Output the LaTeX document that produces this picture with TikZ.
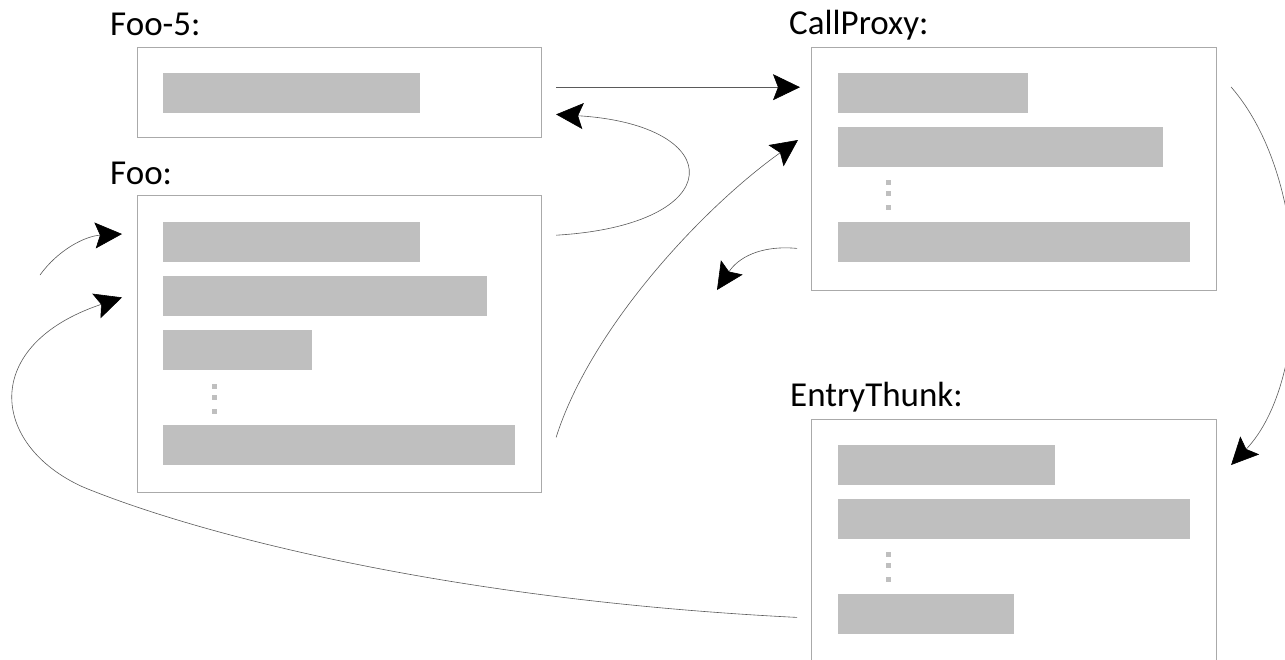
\documentclass[tikz,border=0pt]{standalone}
\usepackage{fontspec}
\setmainfont{Carlito}
\usetikzlibrary{arrows.meta,positioning}
\definecolor{boxline}{RGB}{170,170,170}
\definecolor{barfill}{RGB}{191,191,191}
\definecolor{wire}{RGB}{90,90,90}
\begin{document}
\begin{tikzpicture}[x=1pt,y=-1pt,
  frame/.style={draw=boxline,line width=1.1pt,fill=white,inner sep=0pt,anchor=north west},
  bar/.style={fill=barfill,inner sep=0pt,minimum height=40pt,anchor=north west},
  dotsq/.style={fill=barfill,inner sep=0pt,minimum size=5pt},
  lbl/.style={inner sep=0pt,anchor=base west,font=\fontsize{35}{40}\selectfont},
  wirearrow/.style={draw=wire,line width=0.6pt,-{Stealth[length=27pt,width=26pt,inset=5pt,color=black]}}]
\path[use as bounding box,clip] (0,0) rectangle (1285,659);
% labels
\node[lbl] (l5) at (110,35) {Foo-5:};
\node[lbl] (lfoo) at (110,184) {Foo:};
\node[lbl] (lcp) at (789,34) {CallProxy:};
\node[lbl] (let) at (790,406) {EntryThunk:};
% Foo-5 box
\node[frame,minimum width=404pt,minimum height=90pt] (foo5) at (137,47) {};
\node[bar,minimum width=257pt] (f5b1) at (163,73) {};
% Foo box
\node[frame,minimum width=404pt,minimum height=297pt] (foo) at (137,195) {};
\node[bar,minimum width=257pt] (fb1) at (163,222) {};
\node[bar,minimum width=324pt] (fb2) at (163,276) {};
\node[bar,minimum width=149pt] (fb3) at (163,330) {};
\node[dotsq] (fd1) at (214,386) {};
\node[dotsq] (fd2) at (214,397) {};
\node[dotsq] (fd3) at (214,411) {};
\node[bar,minimum width=352pt] (fb4) at (163,425) {};
% CallProxy box
\node[frame,minimum width=405pt,minimum height=243pt] (cp) at (811,47) {};
\node[bar,minimum width=190pt] (cb1) at (838,73) {};
\node[bar,minimum width=325pt] (cb2) at (838,127) {};
\node[dotsq] (cd1) at (888,182) {};
\node[dotsq] (cd2) at (888,193) {};
\node[dotsq] (cd3) at (888,207) {};
\node[bar,minimum width=352pt] (cb3) at (838,222) {};
% EntryThunk box
\node[frame,minimum width=405pt,minimum height=260pt] (et) at (811,419) {};
\node[bar,minimum width=217pt] (eb1) at (838,445) {};
\node[bar,minimum width=352pt] (eb2) at (838,499) {};
\node[dotsq] (ed1) at (888,554) {};
\node[dotsq] (ed2) at (888,565) {};
\node[dotsq] (ed3) at (888,579) {};
\node[bar,minimum width=176pt] (eb3) at (838,594) {};
% connector ends (yshift positive = upwards)
\coordinate (a1s) at ([xshift=14pt,yshift=6pt]f5b1.east -| foo5.east);
\coordinate (a1e) at ([xshift=-11pt]a1s -| cp.west);
\coordinate (a2s) at ([xshift=14pt,yshift=7pt]fb1.east -| foo.east);
\coordinate (a2e) at ([xshift=14pt,yshift=-1pt]f5b1.south -| foo5.east);
\coordinate (a3s) at ([xshift=14pt,yshift=28pt]fb4.south -| foo.east);
\coordinate (a3e) at ([xshift=-13pt,yshift=-13pt]cb2.north -| cp.west);
\coordinate (a4s) at ([xshift=-14pt,yshift=14pt]cb3.south -| cp.west);
\coordinate (a4e) at (717,290);
\coordinate (a5s) at ([xshift=14pt,yshift=-40pt]cp.north east);
\coordinate (a5e) at ([xshift=14pt,yshift=-46pt]et.north east);
\coordinate (a6s) at (40,275);
\coordinate (a6e) at ([xshift=-15pt,yshift=-12pt]fb1.north -| foo.west);
\coordinate (a7s) at ([xshift=-14pt,yshift=17pt]eb3.south -| et.west);
\coordinate (a7e) at ([xshift=-15pt,yshift=19pt]fb2.south -| foo.west);
\coordinate (a7m) at (83,487);
% connectors
\draw[wirearrow] (a1s) -- (a1e);
\draw[wirearrow] (a2s) .. controls (730,225) and (730,125) .. (a2e);
\draw[wirearrow] (a3s) .. controls (590,330) and (700,210) .. (a3e);
\draw[wirearrow] (a4s) .. controls (760,245) and (738,258) .. (a4e);
\draw[wirearrow] (a5s) .. controls (1312,180) and (1312,380) .. (a5e);
\draw[wirearrow] (a6s) .. controls (58,250) and (85,236) .. (a6e);
\draw[wirearrow] (a7s) .. controls (450,600) and (200,535) .. (a7m)
  .. controls (-10,445) and (-20,345) .. (a7e);
\end{tikzpicture}
\end{document}
